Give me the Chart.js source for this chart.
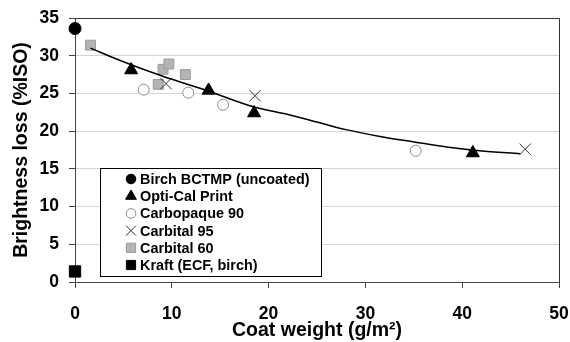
<!DOCTYPE html>
<html>
<head>
<meta charset="utf-8">
<script src="https://cdn.jsdelivr.net/npm/chart.js@4.4.1/dist/chart.umd.min.js"></script>
<style>
  body { margin: 0; background: #fff; }
  #wrap { width: 570px; height: 342px; }
</style>
</head>
<body>
<div id="wrap"><canvas id="chart" width="570" height="342"></canvas></div>
<script>
// values (x = coat weight g/m2, y = brightness loss %ISO)
let birchX = [0]
let birchY = [33.6]
let opticalX = [5.8, 13.8, 18.5, 41.1]
let opticalY = [28.1, 25.4, 22.4, 17.1]
let carbopaqueX = [7.1, 11.7, 15.3, 35.2]
let carbopaqueY = [25.5, 25.1, 23.5, 17.4]
let carbital95X = [9.4, 18.6, 46.5]
let carbital95Y = [26.3, 24.7, 17.6]
let carbital60X = [1.6, 8.6, 9.1, 9.7, 11.4]
let carbital60Y = [31.4, 26.2, 28.2, 28.9, 27.5]
let kraftX = [0]
let kraftY = [1.4]
// trend line
let trendX = [1.6, 4.6, 9, 13.8, 18.5, 22, 25.3, 28, 31.5, 34.9, 38.4, 41.8, 46]
let trendY = [31.0, 29.4, 27.3, 25.3, 23.2, 22.2, 21.1, 20.2, 19.3, 18.6, 17.9, 17.4, 17.0]

let xTicks = [0, 10, 20, 30, 40, 50]
let yTicks = [0, 5, 10, 15, 20, 25, 30, 35]

const pts = (xs, ys) => xs.map((x, i) => ({ x: x, y: ys[i] }))

Chart.defaults.font.family = "'Liberation Sans', Arial, Helvetica, sans-serif"
Chart.defaults.color = '#000'

// small marker painter used by the legend box
function marker(ctx, style, x, y, r, fill, stroke) {
    ctx.save()
    ctx.fillStyle = fill
    ctx.strokeStyle = stroke
    ctx.lineWidth = 1
    ctx.beginPath()
    if (style === 'circle') {
        ctx.arc(x, y, r, 0, Math.PI * 2)
        ctx.fill(); ctx.stroke()
    } else if (style === 'triangle') {
        ctx.moveTo(x, y - r)
        ctx.lineTo(x + r * 0.866, y + r * 0.5)
        ctx.lineTo(x - r * 0.866, y + r * 0.5)
        ctx.closePath()
        ctx.fill(); ctx.stroke()
    } else if (style === 'rect') {
        let s = r * Math.SQRT1_2
        ctx.rect(x - s, y - s, 2 * s, 2 * s)
        ctx.fill(); ctx.stroke()
    } else if (style === 'crossRot') {
        let s = r * Math.SQRT1_2
        ctx.moveTo(x - s, y - s); ctx.lineTo(x + s, y + s)
        ctx.moveTo(x - s, y + s); ctx.lineTo(x + s, y - s)
        ctx.stroke()
    }
    ctx.restore()
}

const boxPlugin = {
    id: 'boxPlugin',
    beforeDatasetsDraw(chart) { // top and right frame of the plot
        const { ctx, chartArea: a } = chart
        ctx.save()
        ctx.strokeStyle = '#333'
        ctx.lineWidth = 1
        ctx.beginPath()
        ctx.moveTo(a.left, a.top + 0.5)
        ctx.lineTo(a.right + 0.5, a.top + 0.5)
        ctx.lineTo(a.right + 0.5, a.bottom)
        ctx.stroke()
        ctx.restore()
    },
    afterDatasetsDraw(chart) { // legend box inside the plot
        const { ctx, chartArea: a } = chart
        const left = a.left + 25, top = a.top + 150, w = 221, h = 108
        ctx.save()
        ctx.fillStyle = '#fff'
        ctx.fillRect(left, top, w, h)
        ctx.strokeStyle = '#000'
        ctx.lineWidth = 1
        ctx.strokeRect(left + 0.5, top + 0.5, w, h)
        ctx.font = "bold 14.4px 'Liberation Sans', Arial, sans-serif"
        ctx.fillStyle = '#000'
        ctx.textBaseline = 'middle'
        let i = 0
        chart.data.datasets.forEach(ds => {
            if (!ds.legend) return
            let y = top + 11 + i * 17.2
            marker(ctx, ds.legend.style, left + 31, y, ds.legend.r, ds.legend.fill, ds.legend.stroke)
            ctx.fillStyle = '#000'
            ctx.fillText(ds.label, left + 40, y + 1)
            i++
        })
        ctx.restore()
    }
}

new Chart(document.getElementById('chart'), {
    type: 'scatter',
    data: {
        datasets: [
            {
                label: 'trend',
                data: pts(trendX, trendY),
                showLine: true,
                pointRadius: 0,
                borderColor: '#000',
                borderWidth: 1.5,
                cubicInterpolationMode: 'monotone',
                clip: false
            },
            {
                label: 'Birch BCTMP (uncoated)',
                data: pts(birchX, birchY),
                pointStyle: 'circle', pointRadius: 6,
                backgroundColor: '#000', borderColor: '#000', borderWidth: 1,
                clip: false,
                legend: { style: 'circle', r: 4.8, fill: '#000', stroke: '#000' }
            },
            {
                label: 'Opti-Cal Print',
                data: pts(opticalX, opticalY),
                pointStyle: 'triangle', pointRadius: 7.5,
                backgroundColor: '#000', borderColor: '#000', borderWidth: 1,
                clip: false,
                legend: { style: 'triangle', r: 6.2, fill: '#000', stroke: '#000' }
            },
            {
                label: 'Carbopaque 90',
                data: pts(carbopaqueX, carbopaqueY),
                pointStyle: 'circle', pointRadius: 5.5,
                backgroundColor: '#fff', borderColor: '#8c8c8c', borderWidth: 1,
                clip: false,
                legend: { style: 'circle', r: 4.8, fill: '#fff', stroke: '#8c8c8c' }
            },
            {
                label: 'Carbital 95',
                data: pts(carbital95X, carbital95Y),
                pointStyle: 'crossRot', pointRadius: 8,
                backgroundColor: '#333', borderColor: '#333', borderWidth: 1,
                clip: false,
                legend: { style: 'crossRot', r: 7, fill: '#333', stroke: '#333' }
            },
            {
                label: 'Carbital 60',
                data: pts(carbital60X, carbital60Y),
                pointStyle: 'rect', pointRadius: 7,
                backgroundColor: '#b4b4b4', borderColor: '#9a9a9a', borderWidth: 1,
                clip: false,
                legend: { style: 'rect', r: 6.5, fill: '#b4b4b4', stroke: '#9a9a9a' }
            },
            {
                label: 'Kraft (ECF, birch)',
                data: pts(kraftX, kraftY),
                pointStyle: 'rect', pointRadius: 8,
                backgroundColor: '#000', borderColor: '#000', borderWidth: 1,
                clip: false,
                legend: { style: 'rect', r: 6.5, fill: '#000', stroke: '#000' }
            }
        ]
    },
    options: {
        responsive: false,
        animation: false,
        layout: { padding: { left: 0, top: 18, right: 11, bottom: 0 } },
        plugins: { legend: { display: false }, tooltip: { enabled: false } },
        scales: {
            x: {
                type: 'linear',
                min: xTicks[0], max: xTicks[xTicks.length - 1],
                afterBuildTicks: s => { s.ticks = xTicks.map(v => ({ value: v })) },
                afterFit: s => { s.height = 60; s.paddingLeft = 0; s.paddingRight = 0 },
                ticks: { font: { size: 17.5, weight: 'bold' }, padding: 16, color: '#000', maxRotation: 0, minRotation: 0 },
                grid: { drawOnChartArea: false, tickLength: 6, tickColor: '#444' },
                border: { color: '#444', width: 1 },
                title: {
                    display: true, text: 'Coat weight (g/m²)',
                    font: { size: 19.5, weight: 'bold' }, color: '#000',
                    padding: { top: 0, bottom: 0 }
                }
            },
            y: {
                min: yTicks[0], max: yTicks[yTicks.length - 1],
                afterBuildTicks: s => { s.ticks = yTicks.map(v => ({ value: v })) },
                afterFit: s => { s.width = 75; s.paddingTop = 0; s.paddingBottom = 0 },
                ticks: { font: { size: 17.5, weight: 'bold' }, padding: 10, color: '#000' },
                grid: { color: '#d4d4d4', tickLength: 6, tickColor: '#444' },
                border: { color: '#444', width: 1 },
                title: {
                    display: true, text: 'Brightness loss (%ISO)',
                    font: { size: 19.5, weight: 'bold' }, color: '#000',
                    padding: { top: 10, bottom: 0 }
                }
            }
        }
    },
    plugins: [boxPlugin]
})
</script>
</body>
</html>
